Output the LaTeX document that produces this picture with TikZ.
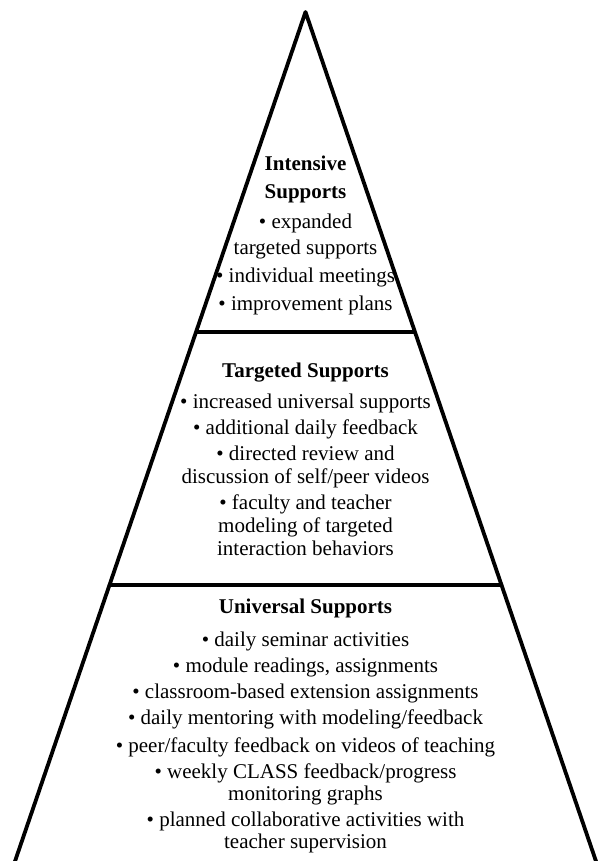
\documentclass[tikz,border=0pt]{standalone}
\usepackage{fontspec}
\setmainfont{Liberation Serif}
\usetikzlibrary{calc}

\begin{document}
\begin{tikzpicture}[
    x=1pt, y=-1pt,
    edge/.style={line width=3.8pt, line join=round},
    tier/.style={align=center, inner sep=0pt, anchor=base}
]
\useasboundingbox (0,0) rectangle (598,861);

% Pyramid outline
\coordinate (top) at (305.5,12);
\coordinate (bl) at (12,870);
\coordinate (br) at (599,870);
\coordinate (cut1l) at ($(top)!0.37296!(bl)$);
\coordinate (cut1r) at ($(top)!0.37296!(br)$);
\coordinate (cut2l) at ($(top)!0.66783!(bl)$);
\coordinate (cut2r) at ($(top)!0.66783!(br)$);

\draw[edge] (bl) -- (top) -- (br);
\draw[edge] (cut1l) -- (cut1r);
\draw[edge] (cut2l) -- (cut2r);

% Tiers (anchored at the baseline of the last line)
\node[tier, font=\fontsize{21}{28}\selectfont] (intensive) at (305.5,310)
  {\textbf{Intensive}\\ \textbf{Supports}\\[2pt]
   \textbullet{} expanded\\[-2pt] targeted supports\\
   \textbullet{} individual meetings\\
   \textbullet{} improvement plans};

\node[tier, font=\fontsize{21}{26}\selectfont] (targeted) at (305.5,555)
  {\textbf{Targeted Supports}\\[5pt]
   \textbullet{} increased universal supports\\
   \textbullet{} additional daily feedback\\
   \textbullet{} directed review and\\[-3pt] discussion of self/peer videos\\
   \textbullet{} faculty and teacher\\[-3pt] modeling of targeted\\[-3pt] interaction behaviors};

\node[tier, font=\fontsize{21}{26}\selectfont] (universal) at (305.5,848)
  {\textbf{Universal Supports}\\[7pt]
   \textbullet{} daily seminar activities\\
   \textbullet{} module readings, assignments\\
   \textbullet{} classroom-based extension assignments\\
   \textbullet{} daily mentoring with modeling/feedback\\[2pt]
   \textbullet{} peer/faculty feedback on videos of teaching\\
   \textbullet{} weekly CLASS feedback/progress\\[-4pt] monitoring graphs\\
   \textbullet{} planned collaborative activities with\\[-4pt] teacher supervision};
\end{tikzpicture}
\end{document}
